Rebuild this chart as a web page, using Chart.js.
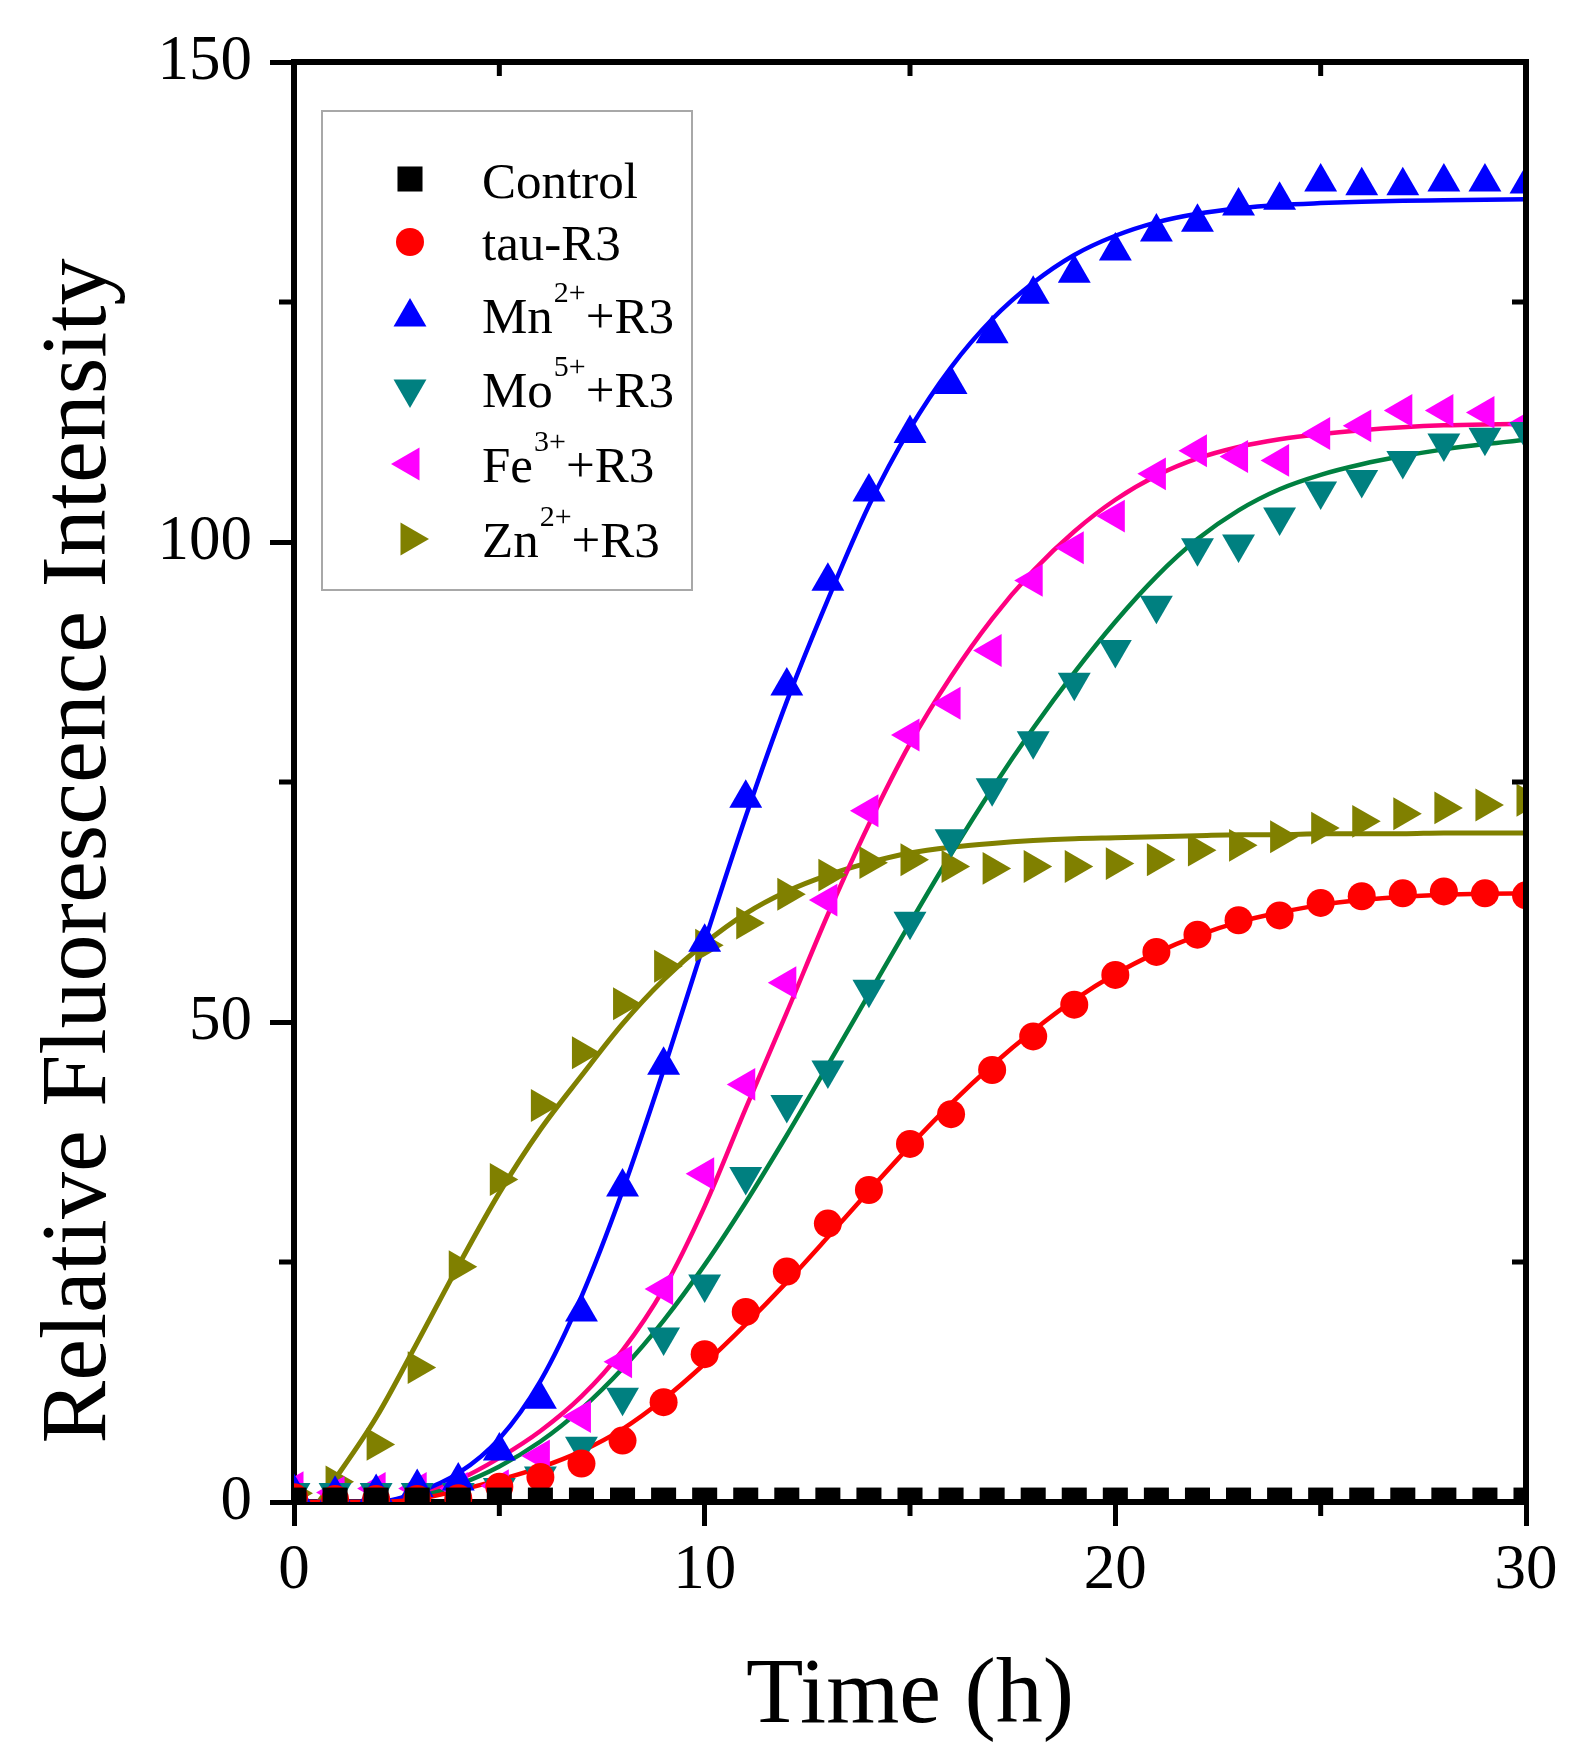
<!DOCTYPE html>
<html>
<head>
<meta charset="utf-8">
<title>Relative Fluorescence Intensity</title>
<script src="https://cdn.jsdelivr.net/npm/chart.js@4.4.1/dist/chart.umd.min.js"></script>
<style>
  html, body { margin: 0; padding: 0; background: #fff; }
  #wrap { width: 1577px; height: 1761px; }
</style>
</head>
<body>
<div id="wrap"><canvas id="chart" width="1577" height="1761"></canvas></div>
<script>
// time axis (h)
var hours = [0,1,2,3,4,5,6,7,8,9,10,11,12,13,14,15,16,17,18,19,20,21,22,23,24,25,26,27,28,29,30];

// measured points
var controlVals = [0.2,0.2,0.2,0.2,0.2,0.2,0.2,0.2,0.2,0.2,0.2,0.2,0.2,0.2,0.2,0.2,0.2,0.2,0.2,0.2,0.2,0.2,0.2,0.2,0.2,0.2,0.2,0.2,0.2,0.2,0.2];
var tauVals = [0.5,0.3,0.3,0.3,0.4,1.6,2.6,4.0,6.4,10.4,15.4,19.8,24.0,29.0,32.5,37.3,40.4,45.0,48.5,51.8,54.9,57.3,59.1,60.6,61.1,62.4,63.1,63.4,63.6,63.4,63.2];
var mnVals = [1.0,0.8,1.0,1.5,2.2,5.3,10.7,19.8,32.8,45.5,58.3,73.3,85.0,95.9,105.2,111.3,116.4,121.7,125.8,128.0,130.3,132.3,133.3,135.0,135.6,137.5,137.1,137.1,137.5,137.5,137.3];
var moVals = [1.0,1.0,1.0,1.0,1.0,1.5,2.7,5.8,10.9,17.2,22.7,33.9,41.4,45.0,53.4,60.5,69.1,74.4,79.3,85.4,88.8,93.4,99.4,99.8,102.6,105.3,106.5,108.5,110.3,110.9,111.5];
var feVals = [1.5,1.0,1.4,1.4,1.4,1.7,4.8,8.9,14.6,22.2,34.2,43.5,54.1,62.7,72.0,79.9,83.2,88.7,96.0,99.4,102.7,107.1,109.5,108.9,108.5,111.3,112.1,113.7,113.7,113.5,112.3];
var znVals = [0.9,2.1,6.0,14.0,24.5,33.6,41.3,46.8,51.9,55.8,58.0,60.3,63.3,65.3,66.6,66.9,66.2,66.0,66.2,66.2,66.5,66.9,67.9,68.4,69.3,70.2,70.9,71.7,72.3,72.6,73.1];

// fitted curves at each hour
var tauFit = [0,0,0,0.3,1.2,2.3,3.6,5.3,7.6,10.7,14.4,18.5,22.9,27.6,32.4,37.1,41.5,45.5,49.1,52.3,55.0,57.2,59.0,60.4,61.4,62.2,62.7,63.05,63.25,63.35,63.4];
var mnFit = [0,0,0,1.0,3.0,6.6,12.6,21.4,32.4,45.0,58.4,71.4,83.4,94.0,103.8,111.8,118.2,123.2,127.0,129.9,131.9,133.3,134.2,134.75,135.1,135.3,135.45,135.55,135.6,135.65,135.7];
var moFit = [0,0,0,0.5,1.8,3.7,6.3,9.7,13.9,18.9,24.7,31.2,38.2,45.5,52.9,60.3,67.5,74.3,80.6,86.4,91.7,96.4,100.3,103.3,105.5,107.0,108.1,108.95,109.65,110.2,110.65];
var feFit = [0,0,0,0.7,2.3,4.6,7.4,11.0,15.8,22.2,30.8,41.0,51.0,61.2,70.6,79.0,86.0,92.0,97.0,101.1,104.4,106.9,108.7,109.9,110.7,111.25,111.65,111.95,112.15,112.25,112.3];
var znFit = [-3.5,2.4,8.8,16.6,24.6,32.2,38.8,44.4,49.8,54.4,58.2,61.3,63.6,65.3,66.6,67.6,68.2,68.6,68.9,69.1,69.2,69.3,69.4,69.5,69.5,69.6,69.6,69.6,69.7,69.7,69.7];

// legend text pieces
var legendMain = ['Control', 'tau-R3', 'Mn', 'Mo', 'Fe', 'Zn'];
var legendSup = ['', '', '2+', '5+', '3+', '2+'];
var legendTail = ['', '', '+R3', '+R3', '+R3', '+R3'];

// axis ticks and titles
var xMajor = [0, 10, 20, 30];
var xMinor = [5, 15, 25];
var yMajor = [0, 50, 100, 150];
var yMinor = [25, 75, 125];
var xTitle = 'Time (h)';
var yTitle = 'Relative Fluorescence Intensity';

var FONT = "'Liberation Serif', 'Times New Roman', serif";

function pts(vals) {
  return hours.map(function(h, i) { return { x: h, y: vals[i] }; });
}

function markers(label, vals, style, rot, radius, color) {
  return {
    label: label,
    data: pts(vals),
    showLine: false,
    pointStyle: style,
    rotation: rot,
    pointRadius: radius,
    backgroundColor: color,
    borderColor: color,
    borderWidth: 0,
    clip: 0
  };
}

function fit(label, vals, color, width) {
  return {
    label: label,
    data: pts(vals),
    showLine: true,
    pointRadius: 0,
    borderColor: color,
    backgroundColor: color,
    borderWidth: width,
    cubicInterpolationMode: 'monotone',
    fill: false,
    clip: 0
  };
}

var names = legendMain.map(function(m, i) { return m + legendSup[i] + legendTail[i]; });

var datasets = [
  markers(names[0], controlVals, 'rect', 0, 17.7, '#000000'),
  markers(names[1], tauVals, 'circle', 0, 14, '#FF0000'),
  markers(names[2], mnVals, 'triangle', 0, 19, '#0000FF'),
  markers(names[3], moVals, 'triangle', 180, 19, '#008080'),
  markers(names[4], feVals, 'triangle', 270, 19, '#FF00FF'),
  markers(names[5], znVals, 'triangle', 90, 19, '#808000'),
  fit(names[1] + ' fit', tauFit, '#FF0000', 4.5),
  fit(names[2] + ' fit', mnFit, '#0000FF', 4.5),
  fit(names[3] + ' fit', moFit, '#008040', 4.5),
  fit(names[4] + ' fit', feFit, '#FF0080', 4.5),
  fit(names[5] + ' fit', znFit, '#808000', 5)
];

// top/right frame plus the short minor ticks
var framePlugin = {
  id: 'frame',
  afterDraw: function(chart) {
    var ctx = chart.ctx, a = chart.chartArea, xs = chart.scales.x, ys = chart.scales.y;
    ctx.save();
    ctx.strokeStyle = '#000';
    ctx.lineWidth = 6;
    ctx.beginPath();
    ctx.moveTo(a.left - 3, a.top);
    ctx.lineTo(a.right, a.top);
    ctx.lineTo(a.right, a.bottom + 3);
    ctx.stroke();
    ctx.lineWidth = 5;
    ctx.beginPath();
    xMinor.forEach(function(v) {
      var px = xs.getPixelForValue(v);
      ctx.moveTo(px, a.bottom); ctx.lineTo(px, a.bottom + 14);
      ctx.moveTo(px, a.top); ctx.lineTo(px, a.top + 14);
    });
    yMinor.forEach(function(v) {
      var py = ys.getPixelForValue(v);
      ctx.moveTo(a.left, py); ctx.lineTo(a.left - 15, py);
      ctx.moveTo(a.right, py); ctx.lineTo(a.right - 14, py);
    });
    ctx.stroke();

    // y title sits a bit below the middle of the axis, as in the figure
    ctx.fillStyle = '#000';
    ctx.font = '94px ' + FONT;
    ctx.textAlign = 'center';
    ctx.textBaseline = 'middle';
    ctx.translate(80, (a.top + a.bottom) / 2 + 69);
    ctx.rotate(-Math.PI / 2);
    ctx.fillText(yTitle, 0, 0);
    ctx.restore();
  }
};

// boxed legend with superscripts
var legendPlugin = {
  id: 'richLegend',
  afterDraw: function(chart) {
    var ctx = chart.ctx;
    var rowBase = [198, 260, 333, 407, 482, 557];
    var symY = [179, 242, 317, 389, 464, 539];
    ctx.save();
    ctx.fillStyle = '#fff';
    ctx.fillRect(322, 111, 370, 479);
    ctx.strokeStyle = '#a8a8a8';
    ctx.lineWidth = 2;
    ctx.strokeRect(322, 111, 370, 479);
    legendMain.forEach(function(main, i) {
      var ds = chart.data.datasets[i];
      ctx.fillStyle = ds.backgroundColor;
      Chart.helpers.drawPoint(ctx, {
        pointStyle: ds.pointStyle,
        radius: ds.pointRadius,
        rotation: ds.rotation,
        borderWidth: 0
      }, 410, symY[i]);
      ctx.fillStyle = '#000';
      ctx.textBaseline = 'alphabetic';
      ctx.textAlign = 'left';
      var x = 482;
      ctx.font = '51px ' + FONT;
      ctx.fillText(main, x, rowBase[i]);
      x += ctx.measureText(main).width;
      if (legendSup[i]) {
        ctx.font = '30px ' + FONT;
        ctx.fillText(legendSup[i], x + 1, rowBase[i] - 31);
        x += ctx.measureText(legendSup[i]).width + 1;
        ctx.font = '51px ' + FONT;
        ctx.fillText(legendTail[i], x, rowBase[i]);
      }
    });
    ctx.restore();
  }
};

var ctx = document.getElementById('chart').getContext('2d');
var chart = new Chart(ctx, {
  type: 'scatter',
  data: { datasets: datasets },
  plugins: [framePlugin, legendPlugin],
  options: {
    responsive: false,
    animation: false,
    devicePixelRatio: 1,
    events: [],
    layout: { padding: { top: 62, right: 51, left: 0, bottom: 0 } },
    plugins: {
      legend: { display: false },
      tooltip: { enabled: false }
    },
    scales: {
      x: {
        type: 'linear',
        position: 'bottom',
        min: 0,
        max: 30,
        z: 1,
        afterFit: function(s) { s.height = 259; },
        afterBuildTicks: function(s) { s.ticks = xMajor.map(function(v) { return { value: v }; }); },
        ticks: { color: '#000', font: { family: FONT, size: 63 }, padding: 8, maxRotation: 0, autoSkip: false },
        grid: { drawOnChartArea: false, drawTicks: true, tickLength: 24, tickWidth: 5, tickColor: '#000' },
        border: { display: true, color: '#000', width: 6 },
        title: { display: true, text: xTitle, color: '#000',
                 font: { family: FONT, size: 94, lineHeight: 1.2 }, padding: { top: 0, bottom: 7 } }
      },
      y: {
        type: 'linear',
        position: 'left',
        min: 0,
        max: 150,
        z: 1,
        afterFit: function(s) { s.width = 294; },
        afterBuildTicks: function(s) { s.ticks = yMajor.map(function(v) { return { value: v }; }); },
        ticks: { color: '#000', font: { family: FONT, size: 63 }, padding: 18, autoSkip: false },
        grid: { drawOnChartArea: false, drawTicks: true, tickLength: 24, tickWidth: 5, tickColor: '#000' },
        border: { display: true, color: '#000', width: 6 },
        title: { display: false }
      }
    }
  }
});
</script>
</body>
</html>
